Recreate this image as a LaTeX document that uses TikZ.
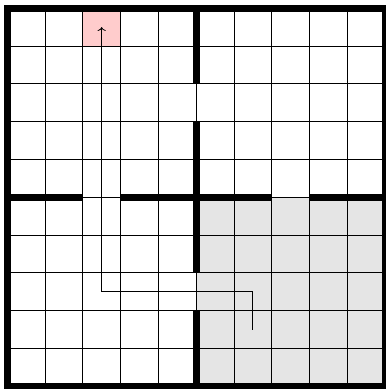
\documentclass[tikz,border=0pt]{standalone}
\usepackage{tikz}
\usetikzlibrary{arrows.meta,positioning,calc}
\definecolor{goalpink}{RGB}{255,204,204}
\definecolor{roomgray}{RGB}{229,229,229}

\begin{document}
\begin{tikzpicture}[
    cellline/.style={black,line width=0.5pt},
    wall/.style={black,line width=5.3pt},
    route/.style={black,line width=0.6pt,->}]
        \useasboundingbox (-0.19,-0.074) rectangle (10,10.217);
        \fill[roomgray] (5,0) rectangle (10,5);
        \fill[goalpink] (2,9) rectangle (3,10);
        \draw[cellline] (0,0) grid (10,10);
        % outer walls and inner walls with doors
        \draw[wall] (0,0) rectangle (10,10);
        \draw[wall] (5,10) -- (5,8) (5,7) -- (5,3) (5,2) -- (5,0);
        \draw[wall] (0,5) -- (2,5) (3,5) -- (7,5) (8,5) -- (10,5);
        \coordinate (start) at (6.5,1.5); \coordinate (goal) at (2.5,9.5);
        \draw[route] (start) -- ++(0,1) -| (goal);
      \end{tikzpicture}
\end{document}
